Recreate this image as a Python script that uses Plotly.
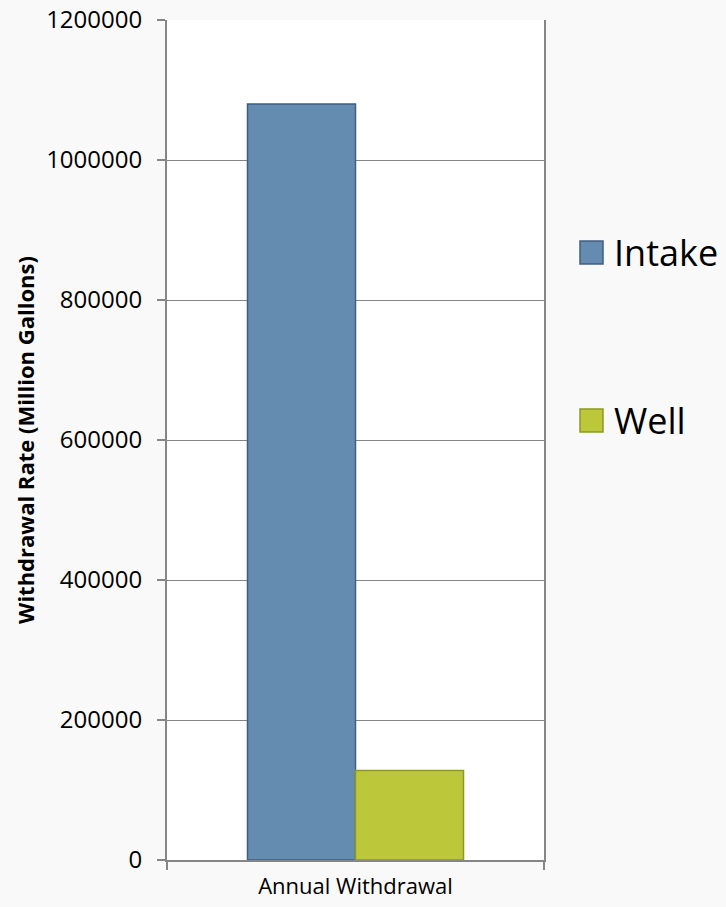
import plotly.graph_objects as go

categories = ["Annual Withdrawal"]
series_names = ["Intake", "Well"]
intake_values = [1080000]
well_values = [128000]
series_colors = ["#648bb0", "#bcc83a"]
series_line_colors = ["#3f5f80", "#8c9a22"]
y_ticks = [0, 200000, 400000, 600000, 800000, 1000000, 1200000]

W, H = 726, 907
L, R, T, B = 167, 182, 20, 47

fig = go.Figure()
for name, vals, col, lc in zip(series_names, [intake_values, well_values], series_colors, series_line_colors):
    fig.add_trace(go.Bar(x=categories, y=vals, name=name, marker=dict(color=col, line=dict(color=lc, width=1.5)),
                         showlegend=False))

fig.update_layout(
    width=W, height=H,
    margin=dict(l=L, r=R, t=T, b=B, autoexpand=False),
    paper_bgcolor="#f9f9f9",
    plot_bgcolor="#ffffff",
    barmode="group",
    bargap=0.427,
    bargroupgap=0,
    font=dict(family="Open Sans", color="#000000"),
    xaxis=dict(
        showline=True, linecolor="#868686", linewidth=2,
        ticks="outside", ticklen=8, tickcolor="#868686", tickwidth=2,
        tickson="boundaries", tickfont=dict(size=22, family="Open Sans"),
        ticklabelstandoff=6, mirror=False, showgrid=False, automargin=False,
    ),
    yaxis=dict(
        range=[0, 1200000], tickvals=y_ticks, ticktext=[str(v) for v in y_ticks],
        showline=True, linecolor="#868686", linewidth=2, mirror=True,
        ticks="outside", ticklen=8, tickcolor="#868686", tickwidth=2,
        showgrid=True, gridcolor="#868686", gridwidth=1,
        tickfont=dict(size=24, family="Open Sans"), ticklabelstandoff=10,
        title=dict(text="<b>Withdrawal Rate (Million Gallons)</b>", font=dict(size=22, family="Open Sans"), standoff=5),
        zeroline=False, automargin=False,
    ),
)

# legend drawn from series names/colors
legend_y = [252, 420]
for name, col, lc, yy in zip(series_names, series_colors, series_line_colors, legend_y):
    fig.add_shape(type="rect", xref="paper", yref="paper",
                  x0=(580 - L) / (W - L - R), x1=(603 - L) / (W - L - R),
                  y0=(H - B - (yy + 12)) / (H - T - B), y1=(H - B - (yy - 11)) / (H - T - B),
                  fillcolor=col, line=dict(color=lc, width=1.5))
    fig.add_annotation(xref="paper", yref="paper", x=(612 - L) / (W - L - R),
                       y=(H - B - yy) / (H - T - B), text=name, showarrow=False,
                       xanchor="left", yanchor="middle", font=dict(size=36, family="Open Sans", color="#000"))

fig.write_html("out.html")
